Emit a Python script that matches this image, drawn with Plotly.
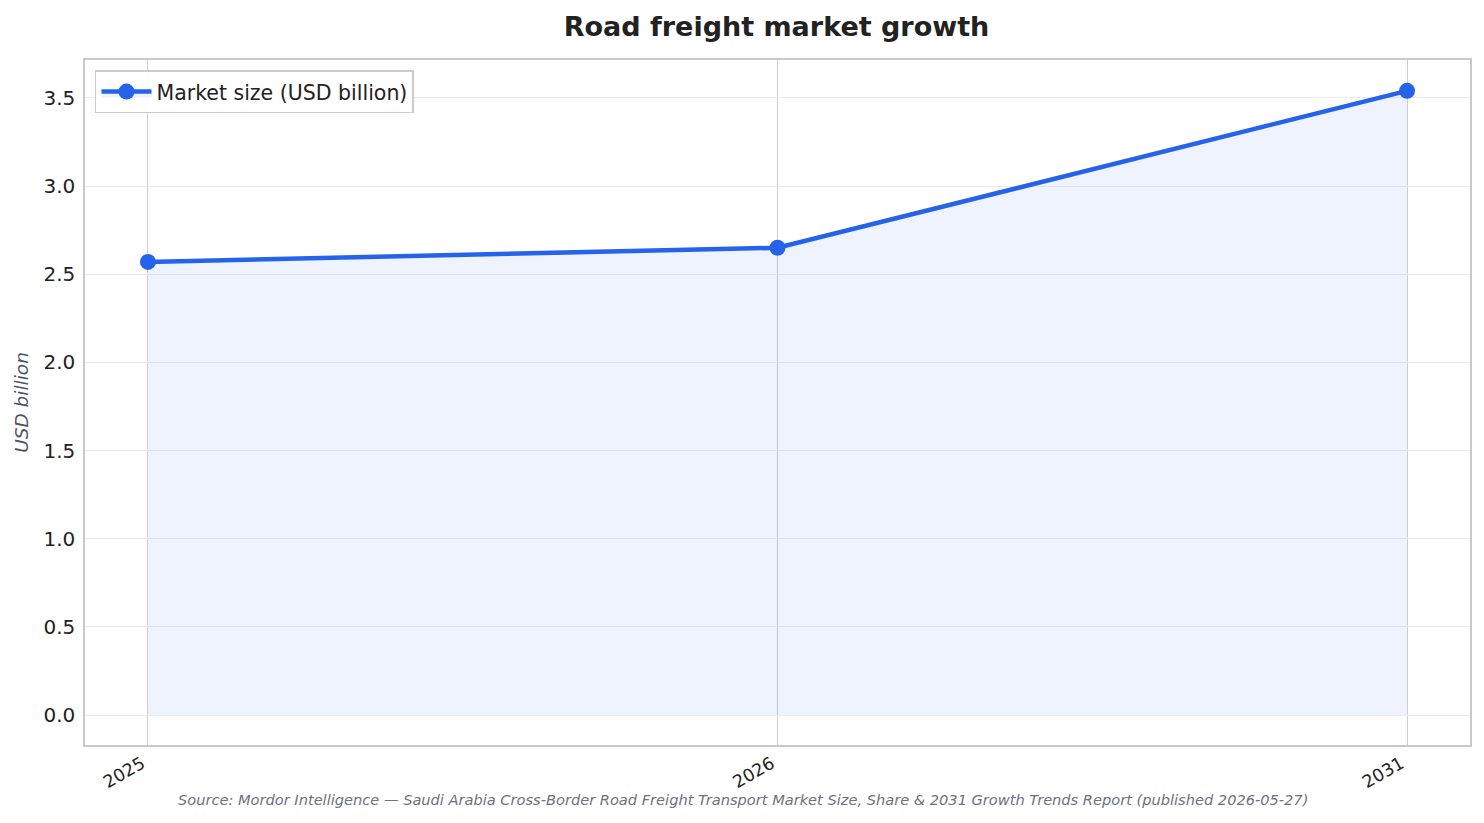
import plotly.graph_objects as go

years = ["2025", "2026", "2031"]
market_size = [2.57, 2.65, 3.54]
y_ticks = [0.0, 0.5, 1.0, 1.5, 2.0, 2.5, 3.0, 3.5]
y_tick_labels = ["0.0", "0.5", "1.0", "1.5", "2.0", "2.5", "3.0", "3.5"]

source_text = ("Source: Mordor Intelligence — Saudi Arabia Cross-Border Road Freight Transport "
               "Market Size, Share & 2031 Growth Trends Report (published 2026-05-27)")

fig = go.Figure()
fig.add_trace(go.Scatter(
    x=years, y=market_size, mode="lines+markers",
    name="Market size (USD billion)",
    line=dict(color="#2563eb", width=4.5),
    marker=dict(size=16, color="#2563eb"),
    fill="tozeroy", fillcolor="rgba(37,99,235,0.08)",
))

W, H = 1476, 815
L, R, T, B = 75, 14, 52, 78

fig.update_layout(
    width=W, height=H,
    margin=dict(l=L, r=R, t=T, b=B),
    paper_bgcolor="white", plot_bgcolor="white",
    font=dict(family="DejaVu Sans", color="#222222"),
    title=dict(text="<b>Road freight market growth</b>",
               x=(L + (W - L - R) / 2) / W, xanchor="center",
               y=1 - 19 / H, yanchor="middle",
               font=dict(size=27, color="#222222")),
    showlegend=True,
    legend=dict(x=0.0072, y=0.985, xanchor="left", yanchor="top",
                bgcolor="rgba(255,255,255,0.9)", bordercolor="#cccccc", borderwidth=1.5,
                itemwidth=50,
                font=dict(size=20.5, color="#222222")),
    annotations=[dict(
        text="<i>" + source_text + "</i>",
        xref="paper", yref="paper", x=(733.5 - L) / (W - L - R), y=-0.08, yanchor="middle",
        showarrow=False, font=dict(size=14.6, color="#6b7280", family="DejaVu Sans"),
    )],
)

fig.update_xaxes(
    type="category", range=[-0.1, 2.1],
    showgrid=True, gridcolor="#cfcfcf", gridwidth=1.2,
    showline=True, linecolor="#c8c8c8", linewidth=1.5, mirror=True,
    tickangle=-30, tickfont=dict(size=17.5, color="#222222"),
    ticklabelshift=-6,
    ticks="", zeroline=False,
)
fig.update_yaxes(
    range=[-0.17, 3.715],
    tickvals=y_ticks, ticktext=y_tick_labels,
    showgrid=True, gridcolor="#ececec", gridwidth=1.2,
    showline=True, linecolor="#c8c8c8", linewidth=1.5, mirror=True,
    tickfont=dict(size=20, color="#222222"), ticks="", zeroline=False,
    ticklabelstandoff=4,
    title=dict(text="<i>USD billion</i>", font=dict(size=18.5, color="#4b5563"), standoff=10),
)

fig.write_html("out.html")
